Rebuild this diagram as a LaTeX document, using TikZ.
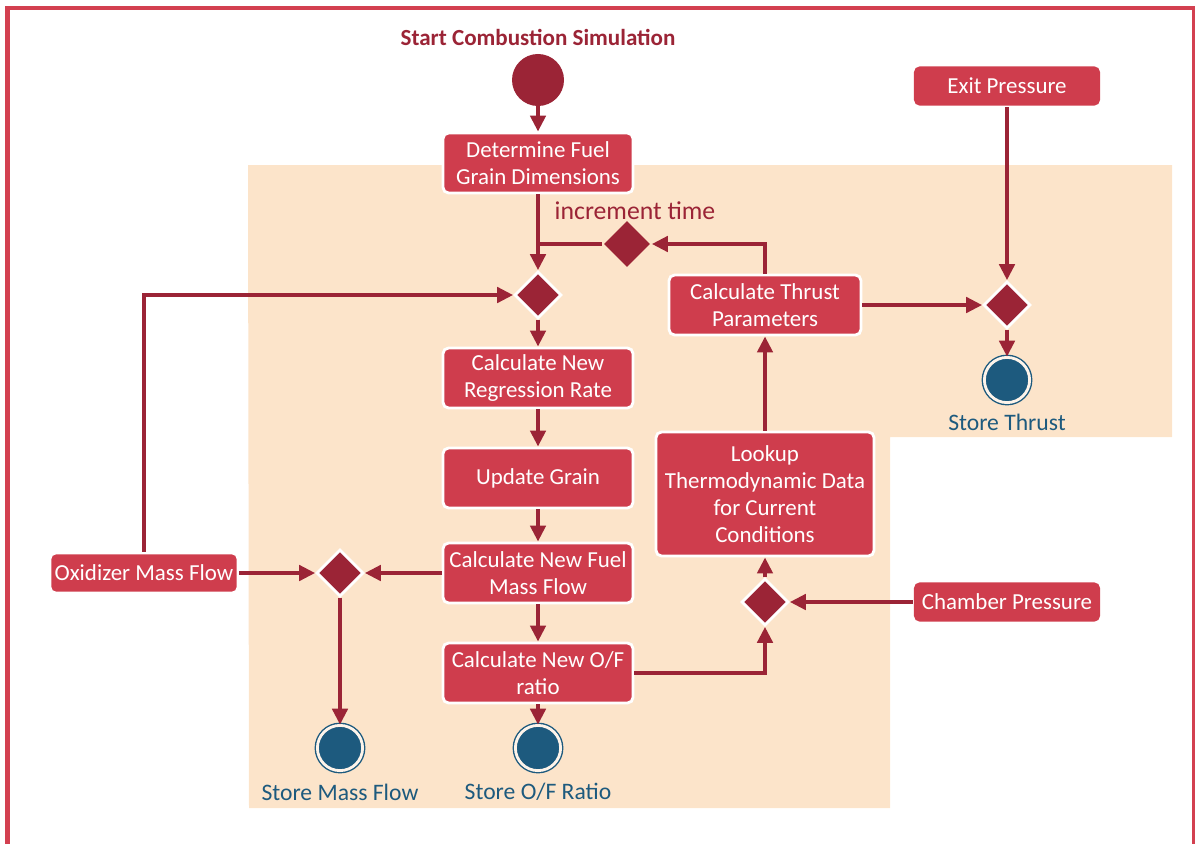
\documentclass[tikz,border=0pt]{standalone}
\usepackage{fontspec}
\setmainfont{Carlito}
\usetikzlibrary{arrows.meta,shapes.geometric}

\definecolor{boxred}{HTML}{CF3D4D}
\definecolor{linered}{HTML}{9B2436}
\definecolor{storeblue}{HTML}{1D5A7E}
\definecolor{peach}{HTML}{FCE4CA}
\definecolor{framered}{HTML}{D34050}

\tikzset{
  act/.style={rectangle, rounded corners=4pt, fill=boxred, draw=white,
    line width=2pt, text=white, align=center, inner sep=2pt,
    minimum width=4.75cm, minimum height=1.5cm,
    font=\fontsize{16.3}{19.2}\selectfont},
  source/.style={act, draw=none, minimum width=4.65cm, minimum height=0.98cm},
  decide/.style={diamond, aspect=1, fill=linered, draw=white, line width=2pt,
    minimum size=1.17cm, inner sep=0pt},
  startdot/.style={circle, fill=linered, minimum size=1.3cm, inner sep=0pt},
  store/.style={circle, fill=storeblue, draw=storeblue, double=peach!40,
    line width=1pt, double distance=2pt, minimum size=1.13cm, inner sep=0pt},
  storelabel/.style={text=storeblue, font=\fontsize{16.8}{19}\selectfont},
  link/.style={draw=linered, line width=2.8pt},
  flow/.style={link, -{Triangle[length=0.4cm, width=0.38cm]}}
}

\begin{document}
\begin{tikzpicture}[x=0.025cm, y=-0.025cm]
\useasboundingbox (0,0) rectangle (1195,843);
\clip (0,0) rectangle (1195,843);

% frame and swimlane
\draw[framered, line width=3.5pt] (7.5,880) -- (7.5,8) -- (1194.5,8) -- (1194.5,880);
\fill[peach] (248,165) -- (1172,165) -- (1172,437) -- (890,437)
  -- (890,808) -- (249,808) -- cycle;

% nodes
\node[text=linered, font=\fontsize{16.4}{19}\selectfont\bfseries] (title) at (538,37)
  {Start Combustion Simulation};
\node[startdot] (start) at (538,80) {};
\node[act] (grain) at (538,163) {Determine Fuel\\Grain Dimensions};
\node[decide, draw=none] (inc) at (627,244) {};
\node[text=linered, font=\fontsize{18.3}{21}\selectfont] (inclabel) at (635,211) {increment time};
\node[decide] (merge) at (538,295) {};
\node[act] (regr) at (538,378) {Calculate New\\Regression Rate};
\node[act] (update) at (538,478) {Update Grain};
\node[act] (fuelflow) at (538,573) {Calculate New Fuel\\Mass Flow};
\node[act] (ofratio) at (538,673) {Calculate New O/F\\ratio};
\node[store] (storeof) at (538,748) {};
\node[storelabel] (storeoflabel) at (538,792) {Store O/F Ratio};

\node[act, minimum width=4.7cm, minimum height=1.0cm] (oxid) at (144,573) {Oxidizer Mass Flow};
\node[decide] (massmix) at (340,573) {};
\node[store] (storemass) at (340,748) {};
\node[storelabel] (storemasslabel) at (340,792) {Store Mass Flow};

\node[act, minimum width=5.45cm, minimum height=3.1cm] (lookup) at (765,494)
  {Lookup\\Thermodynamic Data\\for Current\\Conditions};
\node[decide] (thermomix) at (765,602) {};
\node[source] (chamber) at (1007,602) {Chamber Pressure};
\node[act, minimum width=4.8cm] (thrust) at (765,305) {Calculate Thrust\\Parameters};
\node[source] (exitp) at (1007,86) {Exit Pressure};
\node[decide] (thrustmix) at (1007,305) {};
\node[store] (storethrust) at (1007,380) {};
\node[storelabel] (storethrustlabel) at (1007,422) {Store Thrust};

% arrows
\draw[flow] (start) -- (grain);
\draw[flow] (grain) -- (merge);
\draw[flow] (thrust.north) |- (inc.east);
\draw[link] (inc.west) -- (grain.south |- inc.west);
\draw[flow] (oxid.north) |- (merge.west);
\draw[flow] (merge) -- (regr);
\draw[flow] (regr) -- (update);
\draw[flow] (update) -- (fuelflow);
\draw[flow] (fuelflow) -- (ofratio);
\draw[flow] (ofratio) -- (storeof);
\draw[flow] (oxid) -- (massmix);
\draw[flow] (fuelflow) -- (massmix);
\draw[flow] (massmix) -- (storemass);
\draw[flow] (ofratio.east) -| (thermomix.south);
\draw[flow] (thermomix) -- (lookup);
\draw[flow] (chamber) -- (thermomix);
\draw[flow] (lookup) -- (thrust);
\draw[flow] (thrust) -- (thrustmix);
\draw[flow] (exitp) -- (thrustmix);
\draw[flow] (thrustmix) -- (storethrust);
\end{tikzpicture}
\end{document}
